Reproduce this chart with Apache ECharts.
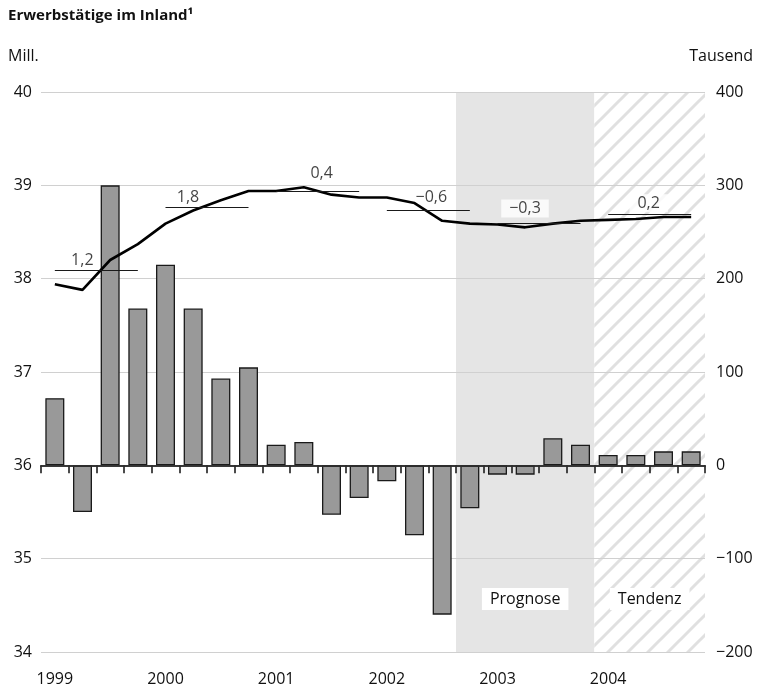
<!DOCTYPE html>
<html>
<head>
<meta charset="utf-8">
<script src="https://cdn.jsdelivr.net/npm/echarts@6/dist/echarts.min.js"></script>
<style>html,body{margin:0;padding:0;background:#fff}#c{width:760px;height:691px}</style>
</head>
<body>
<div id="c"></div>
<script>
// ---- data ----
const years = ['1999', '2000', '2001', '2002', '2003', '2004'];
const quartersPerYear = 4;
// change vs previous quarter, thousand persons (right axis)
const barValues = [72, -50, 300, 168, 215, 168, 93, 105, 22, 25, -53, -35,
                   -17, -75, -160, -46, -10, -10, 29, 22, 11, 11, 15, 15];
// persons employed, millions (left axis)
const lineValues = [37.94, 37.88, 38.20, 38.37, 38.59, 38.73, 38.84, 38.94,
                    38.94, 38.98, 38.90, 38.87, 38.87, 38.81, 38.62, 38.59,
                    38.58, 38.55, 38.59, 38.62, 38.63, 38.64, 38.66, 38.66];
// annual averages (millions) and annual change labels (%)
const annualAvg = [38.09, 38.76, 38.94, 38.73, 38.59, 38.69];
const annualLabels = ['1,2', '1,8', '0,4', '\u22120,6', '\u22120,3', '0,2'];
// shaded periods in quarter index units
const periods = [
  { name: 'Prognose', from: 15, to: 20 },
  { name: 'Tendenz', from: 20, to: 24 }
];
const leftTicks = { min: 34, max: 40, interval: 1 };
const rightTicks = { min: -200, max: 400, interval: 100 };

// ---- derived ----
const categories = [];
years.forEach(y => { for (let q = 1; q <= quartersPerYear; q++) categories.push(y + ' Q' + q); });

// ---- styles (per-label offsets) ----
const labelStyle = [
  { offset: [-14, 0], distance: 2 },
  { offset: [-19, 0], distance: 2 },
  { offset: [4, 0], distance: 9 },
  { offset: [3, 0], distance: 5 },
  { offset: [-14, 0], distance: 6, bg: true },
  { offset: [-1, 0], distance: 2, bg: true }
];

function makeHatch() {
  const c = document.createElement('canvas');
  c.width = 20; c.height = 20;
  const g = c.getContext('2d');
  g.fillStyle = '#ffffff'; g.fillRect(0, 0, 20, 20);
  g.strokeStyle = '#e0e0e0'; g.lineWidth = 3.0;
  g.beginPath();
  g.moveTo(-5, 25); g.lineTo(25, -5);
  g.moveTo(-15, 15); g.lineTo(15, -15);
  g.moveTo(5, 35); g.lineTo(35, 5);
  g.stroke();
  return c;
}
const hatch = makeHatch();
const FONT = '"Open Sans", "DejaVu Sans", sans-serif';
const TXT = '#111111';

const segLines = annualAvg.map((v, i) => [
  { coord: [i * quartersPerYear + 0.5, v] },
  { coord: [i * quartersPerYear + quartersPerYear - 0.5, v] }
]);
const labelPoints = annualAvg.map((v, i) => {
  const s = labelStyle[i];
  return {
    value: [i * quartersPerYear + quartersPerYear / 2, v],
    label: {
      formatter: annualLabels[i],
      offset: s.offset,
      distance: s.distance,
      backgroundColor: s.bg ? '#ffffff' : 'transparent',
      padding: s.bg ? [1, 8, 1, 8] : 0
    }
  };
});

const chart = echarts.init(document.getElementById('c'), null, { renderer: 'canvas' });
chart.setOption({
  animation: false,
  textStyle: { fontFamily: FONT },
  title: [
    { text: 'Erwerbstätige im Inland\u00b9', left: 8, top: 8, padding: 0,
      textStyle: { fontFamily: FONT, fontSize: 15, fontWeight: 'bold', color: TXT } },
    { text: 'Mill.', left: 8, top: 48, padding: 0,
      textStyle: { fontFamily: FONT, fontSize: 16, fontWeight: 'normal', color: TXT } },
    { text: 'Tausend', right: 7, top: 48, padding: 0,
      textStyle: { fontFamily: FONT, fontSize: 16, fontWeight: 'normal', color: TXT } }
  ],
  grid: { left: 41, right: 55, top: 92, bottom: 39, containLabel: false },
  xAxis: [
    {
      type: 'category', data: categories, boundaryGap: true, z: 3,
      axisLine: { lineStyle: { color: '#111111', width: 1.5 } },
      axisTick: { show: true, interval: 0, length: 8, lineStyle: { color: '#111111', width: 1.5 } },
      axisLabel: {
        interval: 0, margin: 19, fontSize: 16, color: TXT, fontFamily: FONT,
        formatter: (v, i) => (i % quartersPerYear === 0 ? v.split(' ')[0] : '')
      },
      splitLine: { show: false }
    },
    { type: 'value', min: 0, max: categories.length, show: false }
  ],
  yAxis: [
    {
      type: 'value', position: 'left', min: leftTicks.min, max: leftTicks.max, interval: leftTicks.interval,
      z: 1.5,
      axisLine: { show: false }, axisTick: { show: false },
      axisLabel: { margin: 9, fontSize: 16, color: TXT, fontFamily: FONT },
      splitLine: { show: true, lineStyle: { color: '#d0d0d0', width: 1.2 } }
    },
    {
      type: 'value', position: 'right', min: rightTicks.min, max: rightTicks.max, interval: rightTicks.interval,
      axisLine: { show: false }, axisTick: { show: false },
      axisLabel: { margin: 11, fontSize: 16, color: TXT, fontFamily: FONT,
        formatter: v => String(v).replace('-', '\u2212') },
      splitLine: { show: false }
    }
  ],
  series: [
    {
      name: 'areas', type: 'line', xAxisIndex: 1, yAxisIndex: 0, data: [], z: 1, silent: true,
      markArea: {
        z: 1, silent: true,
        label: { show: true, position: 'insideBottom', offset: [0, -37], fontSize: 16, color: TXT,
          fontFamily: FONT, backgroundColor: '#ffffff', padding: [3, 8, 3, 8] },
        data: periods.map((p, i) => [
          { xAxis: p.from, name: p.name,
            itemStyle: { color: i === 0 ? '#e5e5e5' : { image: hatch, repeat: 'repeat' } } },
          { xAxis: p.to }
        ])
      }
    },
    {
      name: 'change', type: 'bar', xAxisIndex: 0, yAxisIndex: 1, data: barValues, barWidth: 19, z: 2,
      itemStyle: { color: '#999999', borderColor: '#1a1a1a', borderWidth: 1.3 },
      markLine: {
        silent: true, symbol: 'none', label: { show: false },
        lineStyle: { color: '#333333', width: 1.6, type: 'solid' },
        data: [{ yAxis: 0 }]
      }
    },
    {
      name: 'level', type: 'line', xAxisIndex: 0, yAxisIndex: 0, data: lineValues, z: 4,
      symbol: 'none', lineStyle: { color: '#000000', width: 2.6 }
    },
    {
      name: 'annual', type: 'scatter', xAxisIndex: 1, yAxisIndex: 0, data: labelPoints, z: 5,
      symbolSize: 0, silent: true,
      label: { show: true, position: 'top', fontSize: 16, color: TXT, fontFamily: FONT },
      markLine: {
        silent: true, symbol: 'none', label: { show: false },
        lineStyle: { color: '#1a1a1a', width: 1.2, type: 'solid' },
        data: segLines
      }
    }
  ]
});
</script>
</body>
</html>
